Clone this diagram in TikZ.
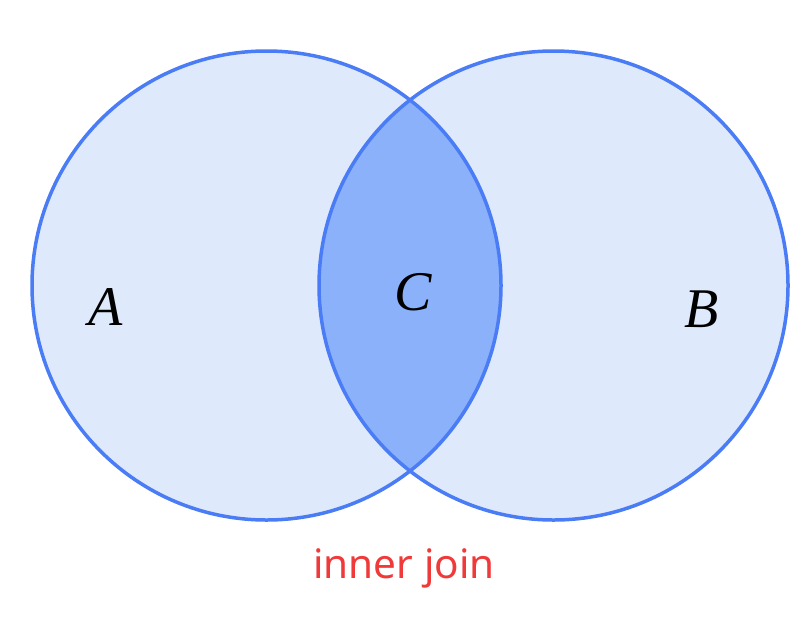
\documentclass[tikz,border=0pt]{standalone}
\usepackage{fontspec}
\setmainfont{Liberation Serif}
\newfontfamily\labelfont{Noto Sans}
\definecolor{setfill}{HTML}{DFE9FC}
\definecolor{setline}{HTML}{4A7CF5}
\definecolor{lensfill}{HTML}{8BB1FB}
\definecolor{capred}{HTML}{F03A3A}
\tikzset{
  setcircle/.style={circle, minimum size=469pt, inner sep=0pt, outer sep=0pt},
  setletter/.style={font=\fontsize{56}{56}\selectfont\itshape, inner sep=0pt},
}
\begin{document}
\begin{tikzpicture}[x=1pt,y=-1pt]
\useasboundingbox (0,0) rectangle (810,629);
\node[setcircle, fill=setfill] (A) at (266.5,285.5) {};
\node[setcircle, fill=setfill] (B) at (553.5,285.5) {};
\begin{scope}
  \clip (266.5,285.5) circle (234.5pt);
  \fill[lensfill] (553.5,285.5) circle (234.5pt);
\end{scope}
\draw[setline, line width=3.5pt] (A.center) circle (234.5pt);
\draw[setline, line width=3.5pt] (B.center) circle (234.5pt);
\node[setletter] (la) at (106,307) {A};
\node[setletter] (lb) at (702,309) {B};
\node[setletter] (lc) at (413,292) {C};
\node[font=\labelfont\fontsize{40.5}{40.5}\selectfont, text=capred, anchor=base] (cap) at (404,578) {inner join};
\end{tikzpicture}
\end{document}
